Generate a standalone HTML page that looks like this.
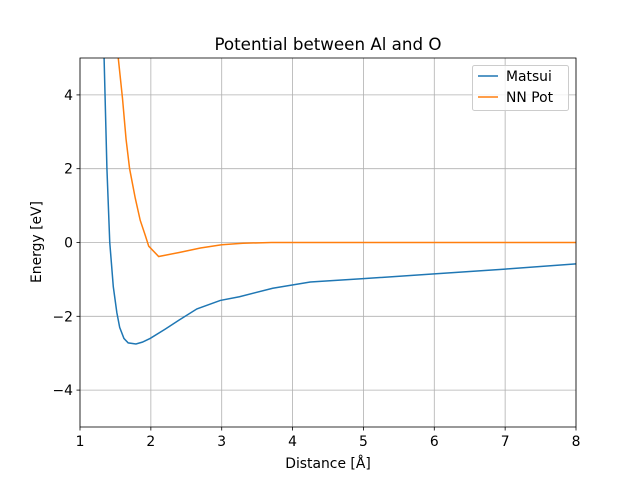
<!DOCTYPE html>
<html><head><meta charset="utf-8"><style>body{margin:0;background:#fff}svg{display:block;font-family:"DejaVu Sans","Liberation Sans",sans-serif}</style></head>
<body>
<svg id="chart" width="640" height="480">
<defs><clipPath id="clip"><rect x="80" y="58" width="496" height="369"/></clipPath></defs>
<g id="grid"></g>
<g id="lines" clip-path="url(#clip)"></g>
<rect x="80" y="58" width="496" height="369" fill="none" stroke="#000" stroke-width="0.8"/>
<g id="ticks" font-size="13.9"></g>
<text x="328" y="50" text-anchor="middle" font-size="16.7">Potential between Al and O</text>
<text x="328" y="468" text-anchor="middle" font-size="13.9">Distance [Å]</text>
<text transform="translate(41,242) rotate(-90)" text-anchor="middle" font-size="13.9">Energy [eV]</text>
<g>
<rect x="472.5" y="65.5" width="96" height="45" rx="2" fill="#fff" fill-opacity="0.8" stroke="#ccc"/>
<line x1="478" y1="76" x2="498" y2="76" stroke="#1f77b4" stroke-width="1.5"/>
<text x="506" y="81" font-size="13.9">Matsui</text>
<line x1="478" y1="97" x2="498" y2="97" stroke="#ff7f0e" stroke-width="1.5"/>
<text x="506" y="102" font-size="13.9">NN Pot</text>
</g>
</svg>
<script>
const xTicks=[1,2,3,4,5,6,7,8];
const yTicks=[-4,-2,0,2,4];
const matsuiX=[1.30,1.34,1.38,1.42,1.47,1.52,1.56,1.62,1.68,1.79,1.88,1.99,2.2,2.4,2.65,2.98,3.25,3.72,4.25,5,6,7,8];
const matsuiY=[8,5,2,0,-1.2,-1.9,-2.3,-2.6,-2.72,-2.75,-2.7,-2.6,-2.35,-2.1,-1.8,-1.57,-1.47,-1.24,-1.07,-0.98,-0.85,-0.72,-0.58];
const nnX=[1.5,1.54,1.6,1.65,1.7,1.78,1.85,1.92,1.97,2.11,2.4,2.7,3.0,3.3,3.7,4,5,6,7,8];
const nnY=[6,5,3.9,2.8,2,1.2,0.6,0.2,-0.1,-0.38,-0.27,-0.15,-0.06,-0.02,0,0,0,0,0,0];
const X=v=>80+(v-1)*496/7, Y=v=>242.5-v*369/10;
const NS='http://www.w3.org/2000/svg';
const g=document.getElementById('grid'),t=document.getElementById('ticks'),L=document.getElementById('lines');
function mk(p,tag,a){const e=document.createElementNS(NS,tag);for(const k in a)e.setAttribute(k,a[k]);p.appendChild(e);return e;}
xTicks.forEach(v=>{const x=X(v);
 const gl=mk(g,'line',{x1:x,x2:x,y1:58,y2:427,stroke:'#b0b0b0','stroke-width':0.8});
 
 
 mk(t,'line',{x1:x,x2:x,y1:427,y2:430.5,stroke:'#000','stroke-width':0.8});
 const tx=mk(t,'text',{x:x,y:446,'text-anchor':'middle'});tx.textContent=v;
 
 });
yTicks.forEach(v=>{const y=Y(v);
 const gl=mk(g,'line',{x1:80,x2:576,y1:y,y2:y,stroke:'#b0b0b0','stroke-width':0.8});
 
 
 mk(t,'line',{x1:76.5,x2:80,y1:y,y2:y,stroke:'#000','stroke-width':0.8});
 const tx=mk(t,'text',{x:73,y:y+5,'text-anchor':'end'});tx.textContent=v<0?'\u2212'+(-v):v;
 
 });
function line(xs,ys,c,n){const p=mk(L,'polyline',{points:xs.map((x,i)=>X(x)+','+Y(ys[i])).join(' '),fill:'none',stroke:c,'stroke-width':1.5});
 
 }
line(matsuiX,matsuiY,'#1f77b4','matsui-line');
line(nnX,nnY,'#ff7f0e','nn-pot-line');
</script>
</body></html>
